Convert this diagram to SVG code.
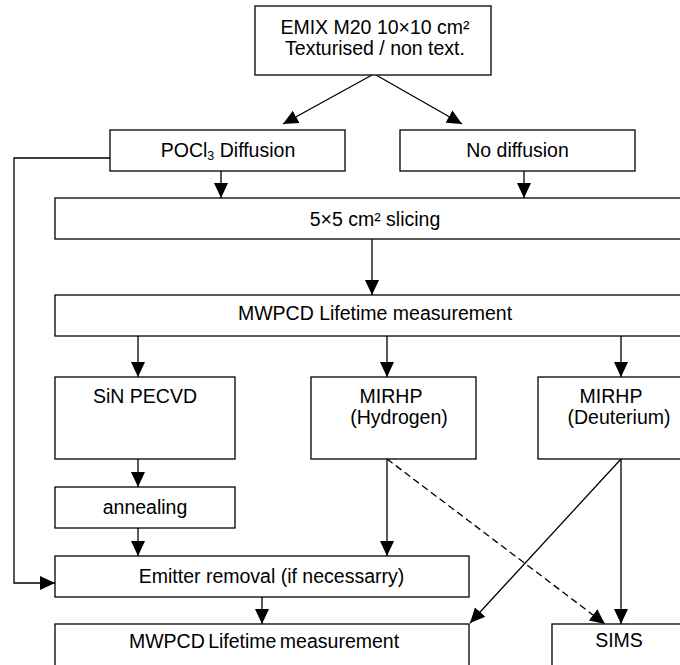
<svg xmlns="http://www.w3.org/2000/svg" width="680" height="665" viewBox="0 0 680 665">
<style>
.box{fill:#fff;stroke:#000;stroke-width:1.3}
.t{font-family:"Liberation Sans",Arial,sans-serif;font-size:19.5px;fill:#000;text-anchor:middle}
.c{fill:none;stroke:#000;stroke-width:1.3}
.d{stroke-dasharray:7,4}
</style>
<defs>
<marker id="ah" markerUnits="userSpaceOnUse" markerWidth="16" markerHeight="16" viewBox="0 0 16 16" refX="15" refY="8" orient="auto">
<path d="M0,1 L15,8 L0,15 Z" fill="#000"/>
</marker>
</defs>
<rect width="680" height="665" fill="#fff"/>
<g id="connectors">
<line class="c" x1="372" y1="75" x2="283" y2="124" marker-end="url(#ah)"/>
<line class="c" x1="376" y1="75" x2="462" y2="124" marker-end="url(#ah)"/>
<line class="c" x1="221" y1="171" x2="221" y2="198" marker-end="url(#ah)"/>
<line class="c" x1="524" y1="171" x2="524" y2="198" marker-end="url(#ah)"/>
<polyline class="c" points="110,158 14,158 14,583 55,583" marker-end="url(#ah)"/>
<line class="c" x1="372" y1="239" x2="372" y2="295" marker-end="url(#ah)"/>
<line class="c" x1="138" y1="336" x2="138" y2="377" marker-end="url(#ah)"/>
<line class="c" x1="387" y1="336" x2="387" y2="377" marker-end="url(#ah)"/>
<line class="c" x1="621" y1="336" x2="621" y2="377" marker-end="url(#ah)"/>
<line class="c" x1="138" y1="459" x2="138" y2="487" marker-end="url(#ah)"/>
<line class="c" x1="138" y1="528" x2="138" y2="556" marker-end="url(#ah)"/>
<line class="c" x1="387" y1="459" x2="387" y2="556" marker-end="url(#ah)"/>
<line class="c d" x1="387" y1="459" x2="605" y2="624" marker-end="url(#ah)"/>
<line class="c" x1="621" y1="459" x2="621" y2="624" marker-end="url(#ah)"/>
<line class="c" x1="621" y1="459" x2="470" y2="623" marker-end="url(#ah)"/>
<line class="c" x1="262" y1="597" x2="262" y2="624" marker-end="url(#ah)"/>
</g>
<g id="emix"><rect class="box" x="255" y="6" width="236" height="69"/>
<text class="t" x="375" y="34">EMIX M20 10×10 cm²</text>
<text class="t" x="375" y="55">Texturised / non text.</text></g>
<g id="pocl3"><rect class="box" x="110" y="130" width="235" height="41"/>
<text class="t" x="228" y="157">POCl<tspan font-size="12.5px" dy="3">3</tspan><tspan dy="-3"> Diffusion</tspan></text></g>
<g id="nodiff"><rect class="box" x="400" y="130" width="235" height="41"/>
<text class="t" x="517.5" y="157">No diffusion</text></g>
<g id="slicing"><rect class="box" x="55" y="198" width="630" height="41"/>
<text class="t" x="375" y="225.5">5×5 cm² slicing</text></g>
<g id="mwpcd1"><rect class="box" x="55" y="295" width="630" height="41"/>
<text class="t" x="375" y="320">MWPCD Lifetime measurement</text></g>
<g id="sin"><rect class="box" x="55" y="377" width="180" height="82"/>
<text class="t" x="145" y="403">SiN PECVD</text></g>
<g id="hydrogen"><rect class="box" x="311" y="377" width="165" height="82"/>
<text class="t" x="391" y="403">MIRHP</text>
<text class="t" x="399" y="424">(Hydrogen)</text></g>
<g id="deuterium"><rect class="box" x="538" y="377" width="147" height="82"/>
<text class="t" x="611" y="403">MIRHP</text>
<text class="t" x="619" y="424">(Deuterium)</text></g>
<g id="annealing"><rect class="box" x="55" y="487" width="180" height="41"/>
<text class="t" x="145" y="514">annealing</text></g>
<g id="emitter"><rect class="box" x="55" y="556" width="414" height="41"/>
<text class="t" x="271.5" y="583">Emitter removal (if necessarry)</text></g>
<g id="mwpcd2"><rect class="box" x="55" y="624" width="414" height="50"/>
<text class="t" x="264" y="648" word-spacing="-2">MWPCD Lifetime measurement</text></g>
<g id="sims"><rect class="box" x="552" y="624" width="133" height="50"/>
<text class="t" x="619" y="647">SIMS</text></g>
</svg>
